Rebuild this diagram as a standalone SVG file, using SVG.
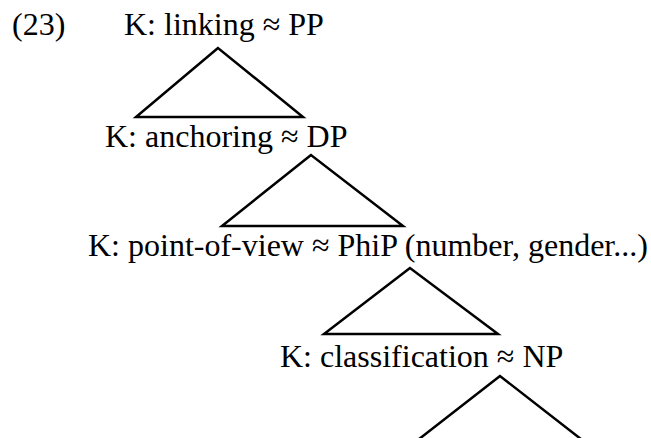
<svg xmlns="http://www.w3.org/2000/svg" width="651" height="438" viewBox="0 0 651 438">
  <style>
    .lbl { font-family: "Liberation Serif", "Times New Roman", serif; font-size: 32px; fill: #000; }
    .tri { fill: none; stroke: #000; stroke-width: 2.5; stroke-linejoin: miter; }
  </style>
  <rect width="651" height="438" fill="#fff"/>

  <!-- example number -->
  <g id="exnum">
    <text class="lbl" x="12" y="35">(23)</text>
  </g>

  <!-- tree nodes, top to bottom -->
  <g id="node-linking">
    <text class="lbl" x="124" y="35">K: linking ≈ PP</text>
  </g>
  <g id="node-anchoring">
    <text class="lbl" x="105" y="147">K: anchoring ≈ DP</text>
  </g>
  <g id="node-pov">
    <text class="lbl" x="88" y="256">K: point-of-view ≈ PhiP (number, gender...)</text>
  </g>
  <g id="node-classification">
    <text class="lbl" x="280" y="367">K: classification ≈ NP</text>
  </g>

  <!-- triangle connectors between levels -->
  <g id="connectors">
    <polygon class="tri" points="218,48 136,117 303,117"/>
    <polygon class="tri" points="311,155 222,226 403,226"/>
    <polygon class="tri" points="410,268 324,334 498,334"/>
    <polygon class="tri" points="500,376 414,443 586,443"/>
  </g>
</svg>
